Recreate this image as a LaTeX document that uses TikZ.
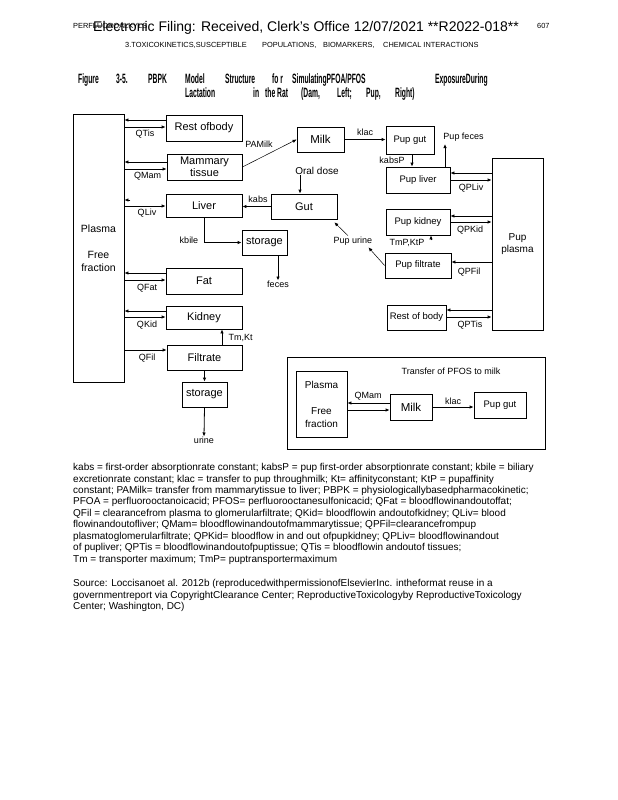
\documentclass[tikz,border=0pt]{standalone}
\usepackage{fontspec}
\setmainfont{Liberation Sans}
\newfontfamily\condfont{Liberation Sans}[FakeStretch=0.5]
\usetikzlibrary{arrows.meta}
\begin{document}
\begin{tikzpicture}[x=1pt,y=-1pt,
  box/.style={draw, line width=0.8pt, inner sep=0pt, align=center, font=\fontsize{11}{13}\selectfont},
  pbox/.style={box, font=\fontsize{9.5}{11.5}\selectfont},
  lab/.style={inner sep=0pt, font=\fontsize{9}{11}\selectfont},
  arr/.style={line width=0.8pt, -{Latex[length=4pt,width=3.5pt]}},
  tw/.style={anchor=west, inner sep=0pt, font=\condfont\bfseries\fontsize{13.5}{15}\selectfont, text height=10pt, text depth=3pt},
  captxt/.style={anchor=west, inner sep=0pt, font=\fontsize{10}{11}\selectfont, text height=7pt, text depth=2pt},
  hd/.style={anchor=west, inner sep=0pt, font=\fontsize{7.4}{8}\selectfont, text height=5.5pt, text depth=1pt}
]
\fill[white] (0,0) rectangle (618,800);
\useasboundingbox (0,0) rectangle (618,800);

% header
\node[hd] (hsmall) at (73,26) {PERFLUOROALKYLS};
\node[anchor=west, inner sep=0pt, font=\fontsize{14}{16}\selectfont] (hmain) at (93,28) {Electronic Filing: Received, Clerk's Office 12/07/2021 **R2022-018**};
\node[hd] (hpage) at (537,26) {607};
\node[hd] (h1) at (125,45) {3.TOXICOKINETICS,SUSCEPTIBLE};
\node[hd] (h2) at (262,45) {POPULATIONS,};
\node[hd] (h3) at (323,45) {BIOMARKERS,};
\node[hd] (h4) at (383,45) {CHEMICAL INTERACTIONS};

% figure title
\node[tw] (t1) at (78,80) {Figure};
\node[tw] (t2) at (116,80) {3-5.};
\node[tw] (t3) at (148,80) {PBPK};
\node[tw] (t4) at (185,80) {Model};
\node[tw] (t5) at (225,80) {Structure};
\node[tw] (t6) at (272,80) {fo r};
\node[tw] (t7) at (292,80) {SimulatingPFOA/PFOS};
\node[tw] (t8) at (435,80) {ExposureDuring};
\node[tw] (t9) at (185,94) {Lactation};
\node[tw] (t10) at (253,94) {in};
\node[tw] (t11) at (265,94) {the};
\node[tw] (t12) at (277,94) {Rat};
\node[tw] (t13) at (301,94) {(Dam,};
\node[tw] (t14) at (337,94) {Left;};
\node[tw] (t15) at (366,94) {Pup,};
\node[tw] (t16) at (395,94) {Right)};

% dam boxes
\node[box, minimum width=51pt, minimum height=268pt, font=\fontsize{10.5}{13}\selectfont] (plasma) at (98.5,248) {Plasma\\[13pt]Free\\fraction};
\node[box, minimum width=76pt, minimum height=26pt] (rest) at (204,128) {Rest ofbody};
\node[box, minimum width=75pt, minimum height=26pt, font=\fontsize{11}{12.5}\selectfont] (mam) at (204.5,167) {Mammary\\tissue};
\node[box, minimum width=76pt, minimum height=23pt] (liver) at (204,205.5) {Liver};
\node[box, minimum width=45pt, minimum height=25pt] (stor1) at (264.5,242.5) {storage};
\node[box, minimum width=76pt, minimum height=26pt] (fat) at (204,281) {Fat};
\node[box, minimum width=76pt, minimum height=23pt] (kidney) at (204,317.5) {Kidney};
\node[box, minimum width=75pt, minimum height=25pt] (filtrate) at (204.5,357.5) {Filtrate};
\node[box, minimum width=45pt, minimum height=25pt] (stor2) at (204.5,394.5) {storage};
\node[box, minimum width=66pt, minimum height=25pt] (gut) at (304,206.5) {Gut};
\node[box, minimum width=47pt, minimum height=25pt, font=\fontsize{11.5}{13}\selectfont] (milk) at (320.5,139.5) {Milk};

% pup boxes
\node[pbox, minimum width=48pt, minimum height=28pt] (pupgut) at (410,140) {Pup gut};
\node[pbox, minimum width=64pt, minimum height=26pt] (pupliver) at (418,180) {Pup liver};
\node[pbox, minimum width=64pt, minimum height=26pt] (pupkid) at (418,222) {Pup kidney};
\node[pbox, minimum width=66pt, minimum height=25pt] (pupfil) at (418,265.5) {Pup filtrate};
\node[pbox, minimum width=59pt, minimum height=25pt] (puprest) at (416.5,317.5) {Rest of body};
\node[box, minimum width=51pt, minimum height=172pt, font=\fontsize{10}{12}\selectfont] (pupplasma) at (517.5,244) {Pup\\plasma};

% free labels
\node[lab, font=\fontsize{10}{12}\selectfont] (oral) at (317,171) {Oral dose};
\node[lab] (feces) at (278,284) {feces};
\node[lab] (urine) at (204,440) {urine};
\node[lab] (purine) at (353,241) {Pup urine};
\node[lab] (pfeces) at (463.5,137) {Pup feces};
\coordinate (pfe) at (445,144);

% dam plasma exchanges
\draw[arr] ([yshift=8pt]rest.west) -- ([yshift=8pt]rest.west -| plasma.east);
\draw[arr] ([yshift=1pt]rest.west -| plasma.east) -- ([yshift=1pt]rest.west);
\node[lab] (qtis) at (145,134) {QTis};
\draw[arr] ([yshift=5pt]mam.west) -- ([yshift=5pt]mam.west -| plasma.east);
\draw[arr] ([yshift=-2pt]mam.west -| plasma.east) -- ([yshift=-2pt]mam.west);
\node[lab] (qmam) at (147.5,176) {QMam};
\draw[arr] ([xshift=6pt,yshift=5.5pt]liver.west -| plasma.east) -- ([yshift=5.5pt]liver.west -| plasma.east);
\draw[arr] ([yshift=-0.5pt]liver.west -| plasma.east) -- ([yshift=-0.5pt]liver.west);
\node[lab] (qliv) at (147,213) {QLiv};
\draw[arr] ([yshift=8pt]fat.west) -- ([yshift=8pt]fat.west -| plasma.east);
\draw[arr] ([yshift=1pt]fat.west -| plasma.east) -- ([yshift=1pt]fat.west);
\node[lab] (qfat) at (147,288) {QFat};
\draw[arr] ([yshift=6.5pt]kidney.west) -- ([yshift=6.5pt]kidney.west -| plasma.east);
\draw[arr] ([yshift=0.5pt]kidney.west -| plasma.east) -- ([yshift=0.5pt]kidney.west);
\node[lab] (qkid) at (147,325) {QKid};
\draw[arr] ([yshift=7.5pt]filtrate.west -| plasma.east) -- ([yshift=7.5pt]filtrate.west);
\node[lab] (qfil) at (147,358) {QFil};

% dam internal
\draw[arr] ([xshift=17.5pt]filtrate.north) -- ([xshift=17.5pt]filtrate.north |- kidney.south);
\node[lab] (tmkt) at (240.5,338) {Tm,Kt};
\draw[arr] (filtrate.south) -- (stor2.north);
\draw[arr] (stor2.south) -- (urine.north);
\draw[arr] (liver.south) |- (stor1.west);
\node[lab] (kbile) at (189,240) {kbile};
\draw[arr] (stor1.south -| feces.north) -- (feces.north);
\draw[arr] (gut.west) -- (gut.west -| liver.east);
\node[lab] (kabs) at (258,199) {kabs};
\draw[arr] ([xshift=-4pt]gut.north |- oral.south) -- ([xshift=-4pt]gut.north);
\draw[-{Latex[length=4pt,width=3.5pt]}, line width=0.5pt] (mam.east) -- (milk.west);
\node[lab] (pamilk) at (259,144) {PAMilk};
\draw[arr] (milk.east) -- (milk.east -| pupgut.west);
\node[lab] (klac) at (365,132) {klac};
\draw[-{Latex[length=4pt,width=3.5pt]}, line width=0.5pt] (pupfil.west) -- ([xshift=-4pt,yshift=-2pt]purine.south east);
\draw[-{Latex[length=4pt,width=3.5pt]}, line width=0.5pt] ([xshift=-5pt,yshift=1pt]purine.north) -- ([xshift=-3pt,yshift=-3pt]gut.south east);

% pup internal
\draw[arr] ([xshift=2pt]pupgut.south) -- ([xshift=2pt]pupgut.south |- pupliver.north);
\node[lab] (kabsp) at (392,160) {kabsP};
\draw[arr] (pupliver.north -| pfe) -- (pfe);
\draw[arr] ([xshift=13pt,yshift=-5pt]pupkid.south) -- ([xshift=13pt]pupkid.south);
\node[lab] (tmpktp) at (407,243) {TmP,KtP};

% pup plasma exchanges
\draw[arr] ([yshift=7pt]pupliver.east -| pupplasma.west) -- ([yshift=7pt]pupliver.east);
\draw[arr] (pupliver.east) -- (pupliver.east -| pupplasma.west);
\node[lab] (qpliv) at (471,188) {QPLiv};
\draw[arr] ([yshift=6pt]pupkid.east -| pupplasma.west) -- ([yshift=6pt]pupkid.east);
\draw[arr] (pupkid.east) -- (pupkid.east -| pupplasma.west);
\node[lab] (qpkid) at (470,230) {QPKid};
\draw[arr] ([yshift=3.5pt]pupfil.east -| pupplasma.west) -- ([yshift=3.5pt]pupfil.east);
\node[lab] (qpfil) at (469,272) {QPFil};
\draw[arr] ([yshift=7.5pt]puprest.east -| pupplasma.west) -- ([yshift=7.5pt]puprest.east);
\draw[arr] ([yshift=0.5pt]puprest.east) -- ([yshift=0.5pt]puprest.east -| pupplasma.west);
\node[lab] (qptis) at (470,325) {QPTis};

% inset
\node[draw, line width=0.8pt, minimum width=258pt, minimum height=92pt, inner sep=0pt] (inset) at (416,403) {};
\node[box, minimum width=51pt, minimum height=66pt, font=\fontsize{10}{13}\selectfont] (bplasma) at (321.5,404) {Plasma\\[13pt]Free\\fraction};
\node[box, minimum width=42pt, minimum height=26pt, font=\fontsize{11.5}{13}\selectfont] (bmilk) at (411,407) {Milk};
\node[pbox, minimum width=52pt, minimum height=26pt] (bpupgut) at (500,405) {Pup gut};
\node[lab] (itext) at (451,371) {Transfer of PFOS to milk};
\draw[arr] ([yshift=4pt]bmilk.west) -- ([yshift=4pt]bmilk.west -| bplasma.east);
\draw[arr] ([yshift=-3pt]bmilk.west -| bplasma.east) -- ([yshift=-3pt]bmilk.west);
\node[lab] (iqmam) at (368,396) {QMam};
\draw[arr] (bmilk.east) -- (bmilk.east -| bpupgut.west);
\node[lab] (iklac) at (453,401) {klac};

% caption
\node[captxt] (c1) at (73,468) {kabs = first-order absorptionrate constant; kabsP = pup first-order absorptionrate constant; kbile = biliary};
\node[captxt] (c2) at (73,479.5) {excretionrate constant; klac = transfer to pup throughmilk; Kt= affinityconstant; KtP = pupaffinity};
\node[captxt] (c3) at (73,491) {constant; PAMilk= transfer from mammarytissue to liver; PBPK = physiologicallybasedpharmacokinetic;};
\node[captxt] (c4) at (73,502) {PFOA = perfluorooctanoicacid; PFOS= perfluorooctanesulfonicacid; QFat = bloodflowinandoutoffat;};
\node[captxt] (c5) at (73,513.5) {QFil = clearancefrom plasma to glomerularfiltrate; QKid= bloodflowin andoutofkidney; QLiv= blood};
\node[captxt] (c6) at (73,525) {flowinandoutofliver; QMam= bloodflowinandoutofmammarytissue; QPFil=clearancefrompup};
\node[captxt] (c7) at (73,536.5) {plasmatoglomerularfiltrate; QPKid= bloodflow in and out ofpupkidney; QPLiv= bloodflowinandout};
\node[captxt] (c8) at (73,548) {of pupliver; QPTis = bloodflowinandoutofpuptissue; QTis = bloodflowin andoutof tissues;};
\node[captxt] (c9) at (73,559.5) {Tm = transporter maximum; TmP= puptransportermaximum};
\node[captxt] (s1) at (73,584) {Source: Loccisanoet al. 2012b (reproducedwithpermissionofElsevierInc. intheformat reuse in a};
\node[captxt] (s2) at (73,595.5) {governmentreport via CopyrightClearance Center; ReproductiveToxicologyby ReproductiveToxicology};
\node[captxt] (s3) at (73,607) {Center; Washington, DC)};
\end{tikzpicture}
\end{document}
